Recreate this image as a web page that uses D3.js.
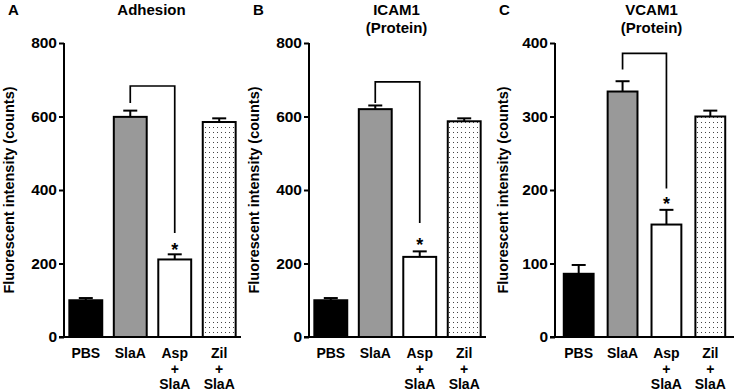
<!DOCTYPE html>
<html><head><meta charset="utf-8">
<script src="https://cdn.jsdelivr.net/npm/d3@7"></script>
<style>
html,body{margin:0;padding:0;background:#fff;}
svg text{font-family:"Liberation Sans",Arial,sans-serif;font-weight:bold;fill:#000;}
</style></head>
<body>
<svg id="chart" width="737" height="391"></svg>
<script>
// ---- data ----
const categories = ["PBS", "SlaA", "Asp + SlaA", "Zil + SlaA"];
const categoryLines = [["PBS"], ["SlaA"], ["Asp", "+", "SlaA"], ["Zil", "+", "SlaA"]];
const panelLetters = ["A", "B", "C"];
const panelTitles = [["Adhesion"], ["ICAM1", "(Protein)"], ["VCAM1", "(Protein)"]];
const adhesionMeans = [100, 599, 211, 585];
const adhesionErrors = [6, 17, 14, 10];
const icamMeans = [100, 620, 218, 587];
const icamErrors = [6, 10, 15, 8];
const vcamMeans = [86, 334, 153, 300];
const vcamErrors = [12, 14, 20, 8];
const yMaxes = [800, 800, 400];
const yTicksA = [0, 200, 400, 600, 800];
const yTicksB = [0, 200, 400, 600, 800];
const yTicksC = [0, 100, 200, 300, 400];
// significance bracket: [left end, top, right end, star]
const bracketA = [637, 683, 283, 250];
const bracketB = [637, 694, 310, 264];
const bracketC = [364, 386, 202, 188];
const yLabel = "Fluorescent intensity (counts)";

const panels = [
  {means: adhesionMeans, errs: adhesionErrors, ticks: yTicksA, bracket: bracketA, x0: 64, x1: 241, pi: 0.26, po: 0.12, ylab: 14},
  {means: icamMeans, errs: icamErrors, ticks: yTicksB, bracket: bracketB, x0: 309, x1: 486, pi: 0.26, po: 0.12, ylab: 259},
  {means: vcamMeans, errs: vcamErrors, ticks: yTicksC, bracket: bracketC, x0: 555, x1: 734, pi: 0.32, po: 0.2, ylab: 508}
];
const fills = ["#000", "#999999", "#fff", "url(#dots)"];

const svg = d3.select("#chart");
const defs = svg.append("defs");
const pat = defs.append("pattern").attr("id", "dots").attr("patternUnits", "userSpaceOnUse")
  .attr("width", 4).attr("height", 5);
pat.append("rect").attr("width", 4).attr("height", 5).attr("fill", "#fff");
pat.append("rect").attr("x", 1).attr("y", 2).attr("width", 1).attr("height", 1).attr("fill", "#444");

const yTop = 43, yBot = 337;

panels.forEach((p, i) => {
  const g = svg.append("g");
  const x = d3.scaleBand().domain(categories).range([p.x0, p.x1]).paddingInner(p.pi).paddingOuter(p.po);
  const y = d3.scaleLinear().domain([0, yMaxes[i]]).range([yBot, yTop]);

  // letter & title
  g.append("text").attr("x", p.x0 - 56).attr("y", 15).style("font-size", "15px").text(panelLetters[i]);
  const cx = (p.x0 + p.x1) / 2 - 1 + (i === 2 ? 8 : 0);
  panelTitles[i].forEach((t, k) => {
    g.append("text").attr("x", cx).attr("y", 15 + k * 18).attr("text-anchor", "middle")
      .style("font-size", "15px").text(t);
  });

  // y label
  g.append("text").attr("transform", `translate(${p.ylab},190) rotate(-90)`)
    .attr("text-anchor", "middle").style("font-size", "14.5px").text(yLabel);

  // bars
  g.selectAll("rect.bar").data(categories).enter().append("rect")
    .attr("x", d => x(d)).attr("width", x.bandwidth())
    .attr("y", (d, j) => y(p.means[j])).attr("height", (d, j) => yBot - y(p.means[j]))
    .attr("fill", (d, j) => fills[j]).attr("stroke", "#000").attr("stroke-width", 2);

  // error bars (upward only)
  categories.forEach((c, j) => {
    const bx = x(c) + x.bandwidth() / 2;
    g.append("line").attr("x1", bx).attr("x2", bx).attr("y1", y(p.means[j])).attr("y2", y(p.means[j] + p.errs[j]))
      .attr("stroke", "#000").attr("stroke-width", 2);
    g.append("line").attr("x1", bx - 7).attr("x2", bx + 7).attr("y1", y(p.means[j] + p.errs[j])).attr("y2", y(p.means[j] + p.errs[j]))
      .attr("stroke", "#000").attr("stroke-width", 2);
  });

  // axes
  const yAxis = d3.axisLeft(y).tickValues(p.ticks).tickSize(5).tickPadding(2).tickFormat(d3.format("d"));
  const ya = g.append("g").attr("transform", `translate(${p.x0},0)`).call(yAxis);
  ya.select(".domain").attr("stroke-width", 2).attr("d", `M0,${yTop}V${yBot}`);
  ya.selectAll(".tick line").attr("stroke-width", 2);
  ya.selectAll(".tick text").style("font-size", "15.5px").style("font-family", "'Liberation Sans',Arial,sans-serif").style("font-weight", "bold");

  g.append("line").attr("x1", p.x0 - 5).attr("x2", p.x1).attr("y1", yBot).attr("y2", yBot)
    .attr("stroke", "#000").attr("stroke-width", 2);

  // x labels
  categories.forEach((c, j) => {
    const bx = x(c) + x.bandwidth() / 2;
    categoryLines[j].forEach((t, k) => {
      g.append("text").attr("x", bx).attr("y", 358 + k * 15.5).attr("text-anchor", "middle")
        .style("font-size", "14px").text(t);
    });
  });

  // bracket
  const b = p.bracket;
  const lx = x(categories[1]) + x.bandwidth() / 2, rx = x(categories[2]) + x.bandwidth() / 2;
  g.append("path").attr("d", `M${lx},${y(b[0])}V${y(b[1])}H${rx}V${y(b[2])}`)
    .attr("fill", "none").attr("stroke", "#000").attr("stroke-width", 1.7);
  g.append("text").attr("x", rx).attr("y", y(b[3]) + 11).attr("text-anchor", "middle")
    .style("font-size", "18px").text("*");
});
</script>
</body></html>
